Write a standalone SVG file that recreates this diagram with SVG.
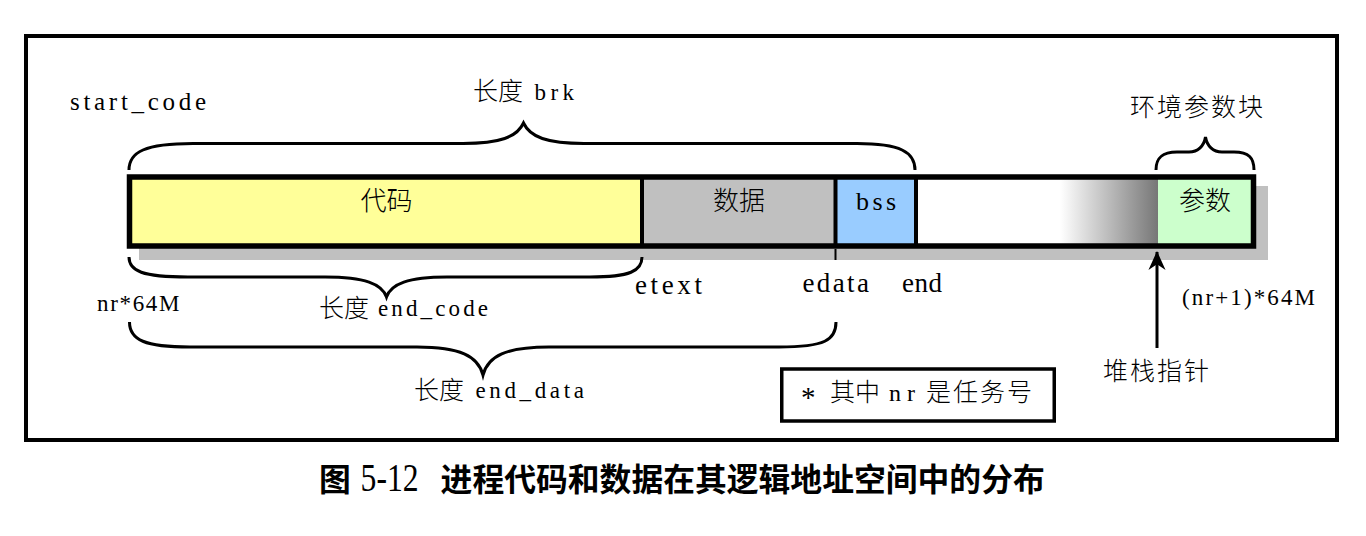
<svg xmlns="http://www.w3.org/2000/svg" width="1366" height="536" viewBox="0 0 1366 536">
<style>
.cj{font-family:"Noto Sans CJK SC","Noto Sans CJK TC",sans-serif;font-size:25px;font-weight:300;fill:#000}
.cjb{font-family:"Noto Sans CJK SC",sans-serif;font-size:26px;font-weight:300;fill:#000}
.sa{font-family:"Liberation Serif","Times New Roman",serif;font-size:27px;fill:#000}
.sb{font-family:"Liberation Serif","Times New Roman",serif;font-size:23px;fill:#000}
.br{fill:none;stroke:#000;stroke-width:3}
.div{stroke:#000;stroke-width:4}
.cap{font-family:"Noto Sans CJK SC",sans-serif;font-size:31.8px;font-weight:bold;fill:#000}
</style>
<defs>
<linearGradient id="fade" x1="0" y1="0" x2="1" y2="0">
<stop offset="0" stop-color="#ffffff"/>
<stop offset="1" stop-color="#777777"/>
</linearGradient>
<marker id="ah" viewBox="0 0 20 20" refX="19" refY="10" markerWidth="20" markerHeight="19" markerUnits="userSpaceOnUse" orient="auto">
<path d="M0,1 L20,10 L0,19 L6,10 z" fill="#000"/>
</marker>
</defs>
<rect width="1366" height="536" fill="#fff"/>
<rect id="frame" x="26" y="36" width="1311" height="404" fill="none" stroke="#000" stroke-width="4"/>

<rect id="shadow" x="139" y="186" width="1129" height="74" fill="#c0c0c0"/>

<g id="seg-code">
<rect x="129.5" y="177" width="512.5" height="69" fill="#ffff99"/>
<text class="cjb" x="386.5" y="210" text-anchor="middle">代码</text>
</g>
<g id="seg-data">
<rect x="642" y="177" width="193.5" height="69" fill="#c0c0c0"/>
<text class="cjb" x="739" y="210" text-anchor="middle">数据</text>
</g>
<g id="seg-bss">
<rect x="835.5" y="177" width="80.5" height="69" fill="#99ccff"/>
<text class="sa" x="856" y="210" style="font-size:26px" textLength="40" lengthAdjust="spacing">bss</text>
</g>
<g id="seg-free">
<rect x="916" y="177" width="144" height="69" fill="#ffffff"/>
<rect x="1060" y="177" width="98" height="69" fill="url(#fade)"/>
</g>
<g id="seg-params">
<rect x="1158" y="177" width="95.5" height="69" fill="#ccffcc"/>
<text class="cjb" x="1205" y="210" text-anchor="middle">参数</text>
</g>
<g id="bar-outline">
<rect x="129.5" y="177" width="1124" height="69" fill="none" stroke="#000" stroke-width="5.5"/>
<line class="div" x1="642" y1="177" x2="642" y2="246"/>
<line class="div" x1="835.5" y1="177" x2="835.5" y2="246"/>
<line class="div" x1="916" y1="177" x2="916" y2="246"/>
</g>

<g id="connectors">
<path id="brace-brk" class="br" d="M129,170 C129,152 145,143.5 193,143.5 L463,143.5 C500,143.5 517,137 523.5,123 C530,137 547,143.5 584,143.5 L857,143.5 C900,143.5 915,152 915,170"/>
<path id="brace-env" class="br" d="M1156,170 C1156,158 1162,152 1177,152 L1189,152 C1198,152 1204,146 1205.5,137 C1207,146 1213,152 1222,152 L1234,152 C1249,152 1254,158 1254,170"/>
<path id="brace-code" class="br" d="M129,257 C129,271 142,277 188,277 L325,277 C365,277 382,284 386.5,297 C391,284 408,277 447,277 L590,277 C630,277 642,271 642,257"/>
<path id="brace-data" class="br" d="M129.5,322 C129.5,340 145,347 190,347 L417,347 C460,347 478,356 483,375 C488,356 506,347 549,347 L779,347 C825,347 836,340 836,322"/>
<line id="tick-edata" x1="835.5" y1="249" x2="835.5" y2="260" stroke="#000" stroke-width="2"/>
<line id="arrow-sp" x1="1157" y1="348" x2="1157" y2="252" stroke="#000" stroke-width="3" marker-end="url(#ah)"/>
</g>

<g id="labels">
<text class="sa" x="70" y="110" style="font-size:25px" textLength="136" lengthAdjust="spacing">start_code</text>
<text class="cj" x="473" y="100">长度</text>
<text class="sb" x="534.5" y="100" textLength="39.5" lengthAdjust="spacing">brk</text>
<text class="cj" x="1130" y="116" letter-spacing="2">环境参数块</text>
<text class="sa" x="635" y="294" textLength="67" lengthAdjust="spacing">etext</text>
<text class="sa" x="802.5" y="292" textLength="66.5" lengthAdjust="spacing">edata</text>
<text class="sa" x="902" y="292" textLength="40" lengthAdjust="spacing">end</text>
<text class="sb" x="97" y="311" textLength="82.5" lengthAdjust="spacing">nr*64M</text>
<text class="sb" x="1182" y="305" textLength="133" lengthAdjust="spacing">(nr+1)*64M</text>
<text class="cj" x="319" y="317">长度</text>
<text class="sb" x="378" y="316" textLength="110" lengthAdjust="spacing">end_code</text>
<text class="cj" x="414" y="399">长度</text>
<text class="sb" x="475.4" y="398" textLength="108.6" lengthAdjust="spacing">end_data</text>
<text class="cj" x="1103" y="380" letter-spacing="2">堆栈指针</text>
</g>

<g id="note">
<rect x="781.75" y="369" width="272.5" height="52" fill="none" stroke="#000" stroke-width="3.5"/>
<text class="sa" x="801" y="407" style="font-size:29px">*</text>
<text class="cj" x="830" y="401">其中</text>
<text class="sb" x="889" y="401" style="font-size:24px" textLength="26" lengthAdjust="spacing">nr</text>
<text class="cj" x="926" y="401" letter-spacing="2">是任务号</text>
</g>

<g id="caption">
<text class="cap" x="319" y="491">图</text>
<text class="sa" x="360.6" y="491" style="font-size:40px" textLength="58" lengthAdjust="spacingAndGlyphs">5-12</text>
<text class="cap" x="440.6" y="491">进程代码和数据在其逻辑地址空间中的分布</text>
</g>
</svg>
